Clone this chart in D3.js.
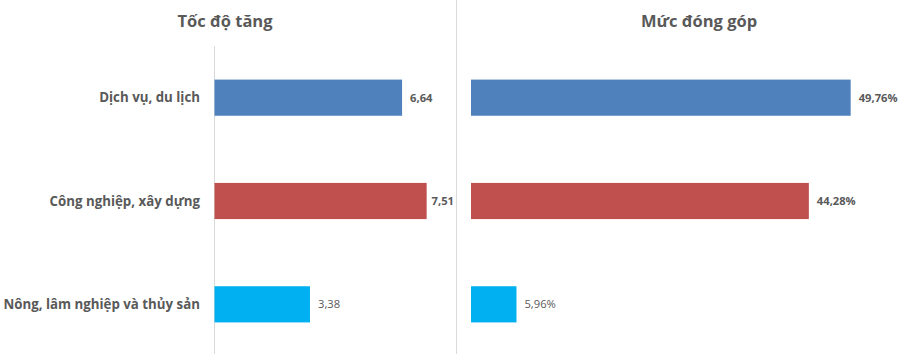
<!DOCTYPE html>
<html>
<head>
<meta charset="utf-8">
<script src="https://cdn.jsdelivr.net/npm/d3@7"></script>
<style>
  body { margin: 0; background: #fff; }
  svg { display: block; font-family: "Open Sans", "Noto Sans", sans-serif; }
</style>
</head>
<body>
<svg id="chart" width="922" height="354"></svg>
<script>
// du lieu
var nganh = ["Dịch vụ, du lịch", "Công nghiệp, xây dựng", "Nông, lâm nghiệp và thủy sản"];
var tocDoTang = [6.64, 7.51, 3.38];
var mucDongGop = [49.76, 44.28, 5.96];
var tieuDe = ["Tốc độ tăng", "Mức đóng góp"];
var mauNganh = ["#4F81BD", "#C0504D", "#00B0F0"];

var svg = d3.select("#chart");
var mauChu = "#595959";

var y = d3.scaleBand()
    .domain(nganh)
    .range([46, 356])
    .paddingInner(0.65)
    .paddingOuter(0.325);

var fmt = function(v) { return v.toFixed(2).replace(".", ","); };

var panels = [
    { ten: tieuDe[0], data: tocDoTang, x: d3.scaleLinear().domain([0, 8]).range([214.5, 440.5]), label: fmt, limit: 454, cx: 225 },
    { ten: tieuDe[1], data: mucDongGop, x: d3.scaleLinear().domain([0, 50]).range([471, 852.5]), label: function(v) { return fmt(v) + "%"; }, limit: 922, cx: 699 }
];

// duong phan cach
svg.append("line")
    .attr("x1", 456.5).attr("x2", 456.5)
    .attr("y1", 0).attr("y2", 354)
    .attr("stroke", "#D9D9D9");

// truc doc ben trai
svg.append("line")
    .attr("x1", 214.5).attr("x2", 214.5)
    .attr("y1", 46).attr("y2", 354)
    .attr("stroke", "#D9D9D9");

panels.forEach(function(p) {
    svg.append("text")
        .attr("x", p.cx).attr("y", 27)
        .attr("text-anchor", "middle")
        .attr("font-size", 16.5)
        .attr("font-weight", "bold")
        .attr("fill", mauChu)
        .text(p.ten);

    var g = svg.append("g");
    g.selectAll("rect")
        .data(p.data)
        .enter().append("rect")
        .attr("x", p.x(0))
        .attr("y", function(d, i) { return y(nganh[i]); })
        .attr("width", function(d) { return p.x(d) - p.x(0); })
        .attr("height", y.bandwidth())
        .attr("fill", function(d, i) { return mauNganh[i]; });

    g.selectAll("text.val")
        .data(p.data)
        .enter().append("text")
        .attr("class", "val")
        .attr("x", function(d) { return p.x(d) + 8; })
        .attr("y", function(d, i) { return y(nganh[i]) + y.bandwidth() / 2; })
        .attr("dy", "0.35em")
        .attr("font-size", 11.2)
        .attr("font-weight", function(d, i) { return i == 2 ? "normal" : "bold"; })
        .attr("fill", mauChu)
        .text(p.label)
        .each(function() {
            var t = d3.select(this);
            var w = this.getComputedTextLength();
            var xx = +t.attr("x");
            if (xx + w > p.limit) t.attr("x", p.limit - w);
        });
});

// nhan danh muc
svg.selectAll("text.cat")
    .data(nganh)
    .enter().append("text")
    .attr("class", "cat")
    .attr("x", 200)
    .attr("y", function(d) { return y(d) + y.bandwidth() / 2; })
    .attr("dy", "0.35em")
    .attr("text-anchor", "end")
    .attr("font-size", 13.3)
    .attr("font-weight", "bold")
    .attr("fill", mauChu)
    .text(function(d) { return d; });
</script>
</body>
</html>
